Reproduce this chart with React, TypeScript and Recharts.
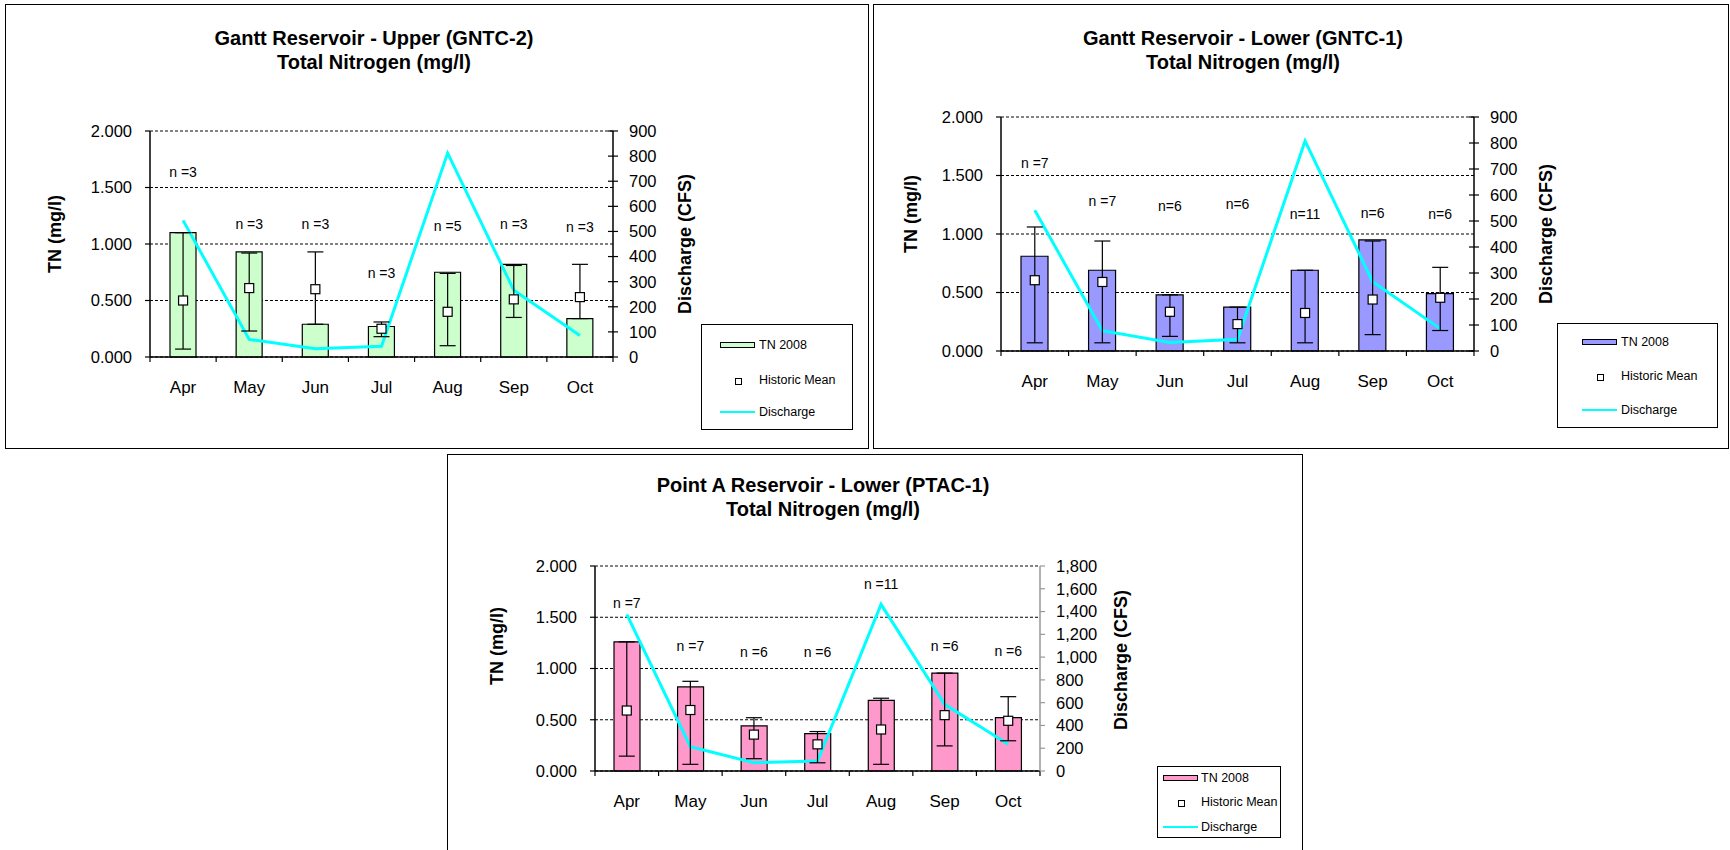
import { ComposedChart, Bar, Line, XAxis, YAxis, CartesianGrid, ReferenceLine, ErrorBar, LabelList } from 'recharts';

const FONT = '"Liberation Sans", Arial, Helvetica, sans-serif';

const months = ['Apr', 'May', 'Jun', 'Jul', 'Aug', 'Sep', 'Oct'];
const tnTicks = [0, 0.5, 1, 1.5, 2];
const flowTicks900 = [0, 100, 200, 300, 400, 500, 600, 700, 800, 900];
const flowTicks1800 = [0, 200, 400, 600, 800, 1000, 1200, 1400, 1600, 1800];

// Gantt Reservoir - Upper (GNTC-2)
const upperTn = [1.1, 0.93, 0.29, 0.27, 0.75, 0.82, 0.34];
const upperMean = [0.5, 0.61, 0.6, 0.25, 0.4, 0.51, 0.53];
const upperMin = [0.07, 0.23, 0.29, 0.18, 0.1, 0.35, 0.34];
const upperMax = [1.1, 0.92, 0.93, 0.31, 0.74, 0.81, 0.82];
const upperFlow = [544, 70, 33, 43, 812, 266, 86];
const upperN = ['n =3', 'n =3', 'n =3', 'n =3', 'n =5', 'n =3', 'n =3'];
const upperNPos = [1.64, 1.18, 1.18, 0.74, 1.16, 1.18, 1.15];

// Gantt Reservoir - Lower (GNTC-1)
const lowerTn = [0.81, 0.69, 0.48, 0.375, 0.69, 0.95, 0.49];
const lowerMean = [0.605, 0.59, 0.335, 0.23, 0.325, 0.44, 0.455];
const lowerMin = [0.07, 0.07, 0.125, 0.07, 0.07, 0.14, 0.175];
const lowerMax = [1.06, 0.94, 0.48, 0.375, 0.69, 0.94, 0.715];
const lowerFlow = [541, 78, 33, 45, 808, 266, 86];
const lowerN = ['n =7', 'n =7', 'n=6', 'n=6', 'n=11', 'n=6', 'n=6'];
const lowerNPos = [1.61, 1.28, 1.24, 1.26, 1.175, 1.18, 1.17];

// Point A Reservoir - Lower (PTAC-1)
const pointTn = [1.26, 0.82, 0.44, 0.365, 0.69, 0.955, 0.52];
const pointMean = [0.59, 0.595, 0.355, 0.26, 0.405, 0.545, 0.49];
const pointMin = [0.145, 0.065, 0.12, 0.08, 0.065, 0.245, 0.295];
const pointMax = [1.26, 0.875, 0.52, 0.385, 0.71, 0.955, 0.725];
const pointFlow = [1376, 214, 73, 88, 1463, 585, 234];
const pointN = ['n =7', 'n =7', 'n =6', 'n =6', 'n =11', 'n =6', 'n =6'];
const pointNPos = [1.64, 1.22, 1.16, 1.16, 1.82, 1.22, 1.17];

interface Row {
  month: string;
  tn: number;
  mean: number;
  err: [number, number];
  flow: number;
  n: string;
  nPos: number;
}

function buildRows(tn: number[], mean: number[], lo: number[], hi: number[], flow: number[], n: string[], nPos: number[]): Row[] {
  return months.map((month, i) => ({
    month,
    tn: tn[i],
    mean: mean[i],
    err: [mean[i] - lo[i], hi[i] - mean[i]],
    flow: flow[i],
    n: n[i],
    nPos: nPos[i],
  }));
}

interface Box { x: number; y: number; w: number; h: number }

interface PanelSpec {
  title: string;
  rows: Row[];
  fill: string;
  flowTicks: number[];
  box: Box;
  plot: { x0: number; x1: number; y0: number; y1: number };
  barSize: number;
  titleX: number;
  titleY: number;
  tnLabel: { x: number; y: number };
  flowLabel: { x: number; y: number };
  legend: Box & { rows: number[]; swatchX: number; textX: number; fontSize: number };
  rightAxisColor: string;
  crossTicks: boolean;
}

const fmtFlow = (v: number) => v.toLocaleString('en-US');

function Square({ cx, cy, size }: { cx?: number; cy?: number; size: number }) {
  if (cx == null || cy == null) return null;
  return <rect x={cx - size / 2} y={cy - size / 2} width={size} height={size} fill="#fff" stroke="#000" strokeWidth={1.2} />;
}

function Legend({ spec }: { spec: PanelSpec }) {
  const lg = spec.legend;
  const text = { position: 'absolute' as const, left: lg.textX, fontSize: lg.fontSize, lineHeight: '14px', whiteSpace: 'nowrap' as const };
  return (
    <div style={{ position: 'absolute', left: lg.x, top: lg.y, width: lg.w, height: lg.h, border: '1.5px solid #000', boxSizing: 'border-box', background: '#fff' }}>
      <div style={{ position: 'absolute', left: lg.swatchX, top: lg.rows[0] - 3, width: 35, height: 6, background: spec.fill, border: '1px solid #000', boxSizing: 'border-box' }} />
      <div style={{ ...text, top: lg.rows[0] - 7 }}>TN 2008</div>
      <div style={{ position: 'absolute', left: lg.swatchX + 15, top: lg.rows[1] - 2.5, width: 5, height: 5, background: '#fff', border: '1px solid #000' }} />
      <div style={{ ...text, top: lg.rows[1] - 7 }}>Historic Mean</div>
      <div style={{ position: 'absolute', left: lg.swatchX, top: lg.rows[2] - 1, width: 35, height: 2, background: '#00ffff' }} />
      <div style={{ ...text, top: lg.rows[2] - 7 }}>Discharge</div>
    </div>
  );
}

function NitrogenPanel({ spec }: { spec: PanelSpec }) {
  const { box, plot } = spec;
  const axisW = 50;
  const axisH = 40;
  const margin = {
    left: plot.x0 - box.x - axisW,
    right: box.x + box.w - plot.x1 - axisW,
    top: plot.y0 - box.y,
    bottom: box.y + box.h - plot.y1 - axisH,
  };
  const half = (plot.x1 - plot.x0) / months.length / 2;
  const flowMax = spec.flowTicks[spec.flowTicks.length - 1];

  const monthTick = (p: any) => (
    <g>
      <line x1={p.x - half} x2={p.x - half} y1={p.y} y2={p.y + 5} stroke="#000" strokeWidth={1.2} />
      {p.index === months.length - 1 && <line x1={p.x + half} x2={p.x + half} y1={p.y} y2={p.y + 5} stroke="#000" strokeWidth={1.2} />}
      <text x={p.x} y={p.y + 30} dy="0.36em" textAnchor="middle" fontSize={17} fill="#000">{p.payload.value}</text>
    </g>
  );
  const tnTick = (p: any) => (
    <g>
      <line x1={p.x - 5} x2={p.x} y1={p.y} y2={p.y} stroke="#000" strokeWidth={1.2} />
      <text x={p.x - 18} y={p.y} dy="0.36em" textAnchor="end" fontSize={16.5} fill="#000">{Number(p.payload.value).toFixed(3)}</text>
    </g>
  );
  const flowTick = (p: any) => (
    <g>
      <line x1={spec.crossTicks ? p.x - 5 : p.x} x2={p.x + 5} y1={p.y} y2={p.y} stroke={spec.rightAxisColor} strokeWidth={1.2} />
      <text x={p.x + 16} y={p.y} dy="0.36em" textAnchor="start" fontSize={16.5} fill="#000">{fmtFlow(p.payload.value)}</text>
    </g>
  );
  const nLabel = (p: any) => (
    <text x={p.x} y={p.y} dy="0.36em" textAnchor="middle" fontSize={14} fill="#000">{p.value}</text>
  );

  const axisTitle = { position: 'absolute' as const, fontSize: 18, fontWeight: 700, whiteSpace: 'nowrap' as const, transform: 'translate(-50%, -50%) rotate(-90deg)' };

  return (
    <>
      <div style={{ position: 'absolute', left: box.x, top: box.y, width: box.w, height: box.h, border: '1.5px solid #000', boxSizing: 'border-box' }} />
      <div style={{ position: 'absolute', left: box.x, top: box.y }}>
        <ComposedChart width={box.w} height={box.h} data={spec.rows} margin={margin}>
          <CartesianGrid yAxisId="tn" vertical={false} stroke="#000" strokeDasharray="3 2" />
          <ReferenceLine yAxisId="tn" y={2} stroke="#888" strokeDasharray="3 2" />
          <XAxis dataKey="month" height={axisH} interval={0} tickSize={0} tickMargin={0} tickLine={false} axisLine={{ stroke: '#000', strokeWidth: 1.5 }} tick={monthTick} />
          <YAxis yAxisId="tn" orientation="left" width={axisW} domain={[0, 2]} ticks={tnTicks} interval={0} tickSize={0} tickMargin={0} tickLine={false} axisLine={{ stroke: '#000', strokeWidth: 1.5 }} tick={tnTick} />
          <YAxis yAxisId="flow" orientation="right" width={axisW} domain={[0, flowMax]} ticks={spec.flowTicks} interval={0} tickSize={0} tickMargin={0} tickLine={false} axisLine={{ stroke: spec.rightAxisColor, strokeWidth: 1.5 }} tick={flowTick} />
          <Bar yAxisId="tn" dataKey="tn" fill={spec.fill} stroke="#000" strokeWidth={1.2} barSize={spec.barSize} isAnimationActive={false} />
          <Line yAxisId="tn" dataKey="nPos" stroke="none" dot={false} activeDot={false} isAnimationActive={false}>
            <LabelList dataKey="n" content={nLabel} />
          </Line>
          <Line yAxisId="flow" dataKey="flow" stroke="#00ffff" strokeWidth={3} dot={false} activeDot={false} isAnimationActive={false} />
          <Line yAxisId="tn" dataKey="mean" stroke="none" activeDot={false} isAnimationActive={false} dot={(p: any) => <Square key={`sq-${p.index}`} cx={p.cx} cy={p.cy} size={9} />}>
            <ErrorBar dataKey="err" width={8} stroke="#000" strokeWidth={1.2} direction="y" />
          </Line>
        </ComposedChart>
      </div>
      <div style={{ position: 'absolute', left: spec.titleX, top: spec.titleY - 12, transform: 'translateX(-50%)', textAlign: 'center', fontSize: 20, fontWeight: 700, lineHeight: '24px', whiteSpace: 'nowrap' }}>
        {spec.title}
        <br />
        Total Nitrogen (mg/l)
      </div>
      <div style={{ ...axisTitle, left: spec.tnLabel.x, top: spec.tnLabel.y }}>TN (mg/l)</div>
      <div style={{ ...axisTitle, left: spec.flowLabel.x, top: spec.flowLabel.y }}>Discharge (CFS)</div>
      <Legend spec={spec} />
    </>
  );
}

const panels: PanelSpec[] = [
  {
    title: 'Gantt Reservoir - Upper (GNTC-2)',
    rows: buildRows(upperTn, upperMean, upperMin, upperMax, upperFlow, upperN, upperNPos),
    fill: '#ccffcc',
    flowTicks: flowTicks900,
    box: { x: 5, y: 4, w: 864, h: 445 },
    plot: { x0: 150, x1: 613, y0: 131, y1: 357 },
    barSize: 26,
    titleX: 374,
    titleY: 38,
    tnLabel: { x: 55, y: 234 },
    flowLabel: { x: 685, y: 244 },
    legend: { x: 701, y: 324, w: 152, h: 106, rows: [20, 55, 87], swatchX: 18, textX: 57, fontSize: 12.5 },
    rightAxisColor: '#000',
    crossTicks: true,
  },
  {
    title: 'Gantt Reservoir - Lower (GNTC-1)',
    rows: buildRows(lowerTn, lowerMean, lowerMin, lowerMax, lowerFlow, lowerN, lowerNPos),
    fill: '#9999ff',
    flowTicks: flowTicks900,
    box: { x: 873, y: 4, w: 856, h: 445 },
    plot: { x0: 1001, x1: 1474, y0: 117, y1: 351 },
    barSize: 27,
    titleX: 1243,
    titleY: 38,
    tnLabel: { x: 911, y: 214 },
    flowLabel: { x: 1546, y: 234 },
    legend: { x: 1557, y: 323, w: 161, h: 105, rows: [18, 52, 86], swatchX: 24, textX: 63, fontSize: 12.5 },
    rightAxisColor: '#000',
    crossTicks: true,
  },
  {
    title: 'Point A Reservoir - Lower (PTAC-1)',
    rows: buildRows(pointTn, pointMean, pointMin, pointMax, pointFlow, pointN, pointNPos),
    fill: '#ff99cc',
    flowTicks: flowTicks1800,
    box: { x: 447, y: 454, w: 856, h: 402 },
    plot: { x0: 595, x1: 1040, y0: 566, y1: 771 },
    barSize: 26,
    titleX: 823,
    titleY: 485,
    tnLabel: { x: 497, y: 646 },
    flowLabel: { x: 1121, y: 660 },
    legend: { x: 1157, y: 766, w: 124, h: 72, rows: [11, 35, 60], swatchX: 5, textX: 43, fontSize: 12.5 },
    rightAxisColor: '#999',
    crossTicks: false,
  },
];

export default function App() {
  return (
    <div style={{ position: 'absolute', left: 0, top: 0, width: 1730, height: 850, overflow: 'hidden', background: '#fff', fontFamily: FONT, color: '#000' }}>
      {panels.map((spec) => (
        <NitrogenPanel key={spec.title} spec={spec} />
      ))}
    </div>
  );
}
